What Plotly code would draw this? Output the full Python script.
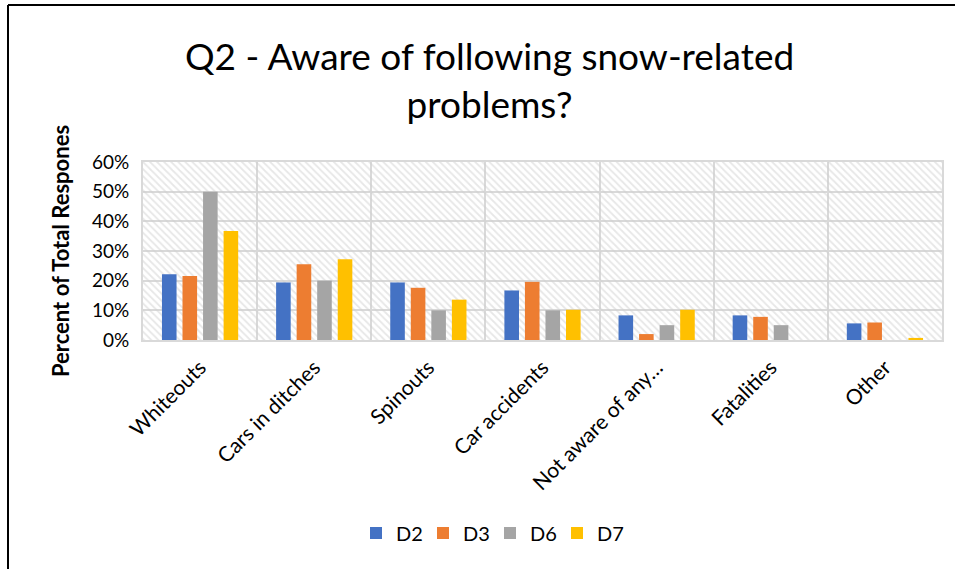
import plotly.graph_objects as go

categories = ["Whiteouts", "Cars in ditches", "Spinouts", "Car accidents",
              "Not aware of any…", "Fatalities", "Other"]
series_names = ["D2", "D3", "D6", "D7"]
d2 = [0.222, 0.194, 0.194, 0.167, 0.083, 0.083, 0.056]
d3 = [0.216, 0.255, 0.176, 0.196, 0.020, 0.078, 0.059]
d6 = [0.500, 0.200, 0.100, 0.100, 0.050, 0.050, 0.000]
d7 = [0.367, 0.272, 0.136, 0.102, 0.102, 0.000, 0.007]
series_values = [d2, d3, d6, d7]
colors = ["#4472C4", "#ED7D31", "#A5A5A5", "#FFC000"]
y_tickvals = [0, 0.1, 0.2, 0.3, 0.4, 0.5, 0.6]
y_max = 0.6

W, H = 958, 569
ML, MR, MT, MB = 143, 16, 162, 229
PW, PH = W - ML - MR, H - MT - MB
FONT = "Lato"
GRID = "#D9D9D9"


def px_x(p):
    return (p - ML) / PW


def px_y(p):
    return (H - MB - p) / PH


fig = go.Figure()

# hatched plot-area background (on base axis, drawn below data)
fig.add_trace(go.Bar(
    x=[0.5], y=[y_max], width=[1], xaxis="x", yaxis="y",
    marker=dict(color="rgba(0,0,0,0)", line=dict(width=0),
                pattern=dict(shape="\\", fgcolor="#CFCFCF", size=5, solidity=0.35)),
    showlegend=False, hoverinfo="skip"))

for name, vals, col in zip(series_names, series_values, colors):
    fig.add_trace(go.Bar(
        x=categories, y=vals, name=name, xaxis="x2", yaxis="y",
        marker=dict(color=col, line=dict(width=0))))

fig.update_layout(
    width=W, height=H,
    margin=dict(l=ML, r=MR, t=MT, b=MB, autoexpand=False),
    paper_bgcolor="white", plot_bgcolor="white",
    font=dict(family=FONT, color="#000000"),
    barmode="group", bargap=0.28, bargroupgap=0.29,
    title=dict(text="Q2 - Aware of following snow-related<br>problems?",
               x=0.511, xanchor="center", xref="container",
               y=1 - 70 / H, yanchor="top", yref="container",
               font=dict(family=FONT, size=37, color="#000000")),
    xaxis=dict(range=[0, 1], visible=False, fixedrange=True),
    xaxis2=dict(overlaying="x", anchor="y", side="bottom", type="category",
                tickson="boundaries", showgrid=True, gridcolor=GRID, gridwidth=2,
                ticks="", tickangle=-45, tickfont=dict(size=21, family=FONT),
                ticklabelstandoff=5,
                showline=True, linecolor=GRID, linewidth=2, mirror=True),
    yaxis=dict(range=[0, y_max], tickvals=y_tickvals, tickformat=".0%",
               showgrid=True, gridcolor=GRID, gridwidth=2, zeroline=False,
               ticks="", tickfont=dict(size=19, family=FONT), ticklabelstandoff=8,
               showline=True, linecolor=GRID, linewidth=2, mirror=True,
               title=dict(text="<b>Percent of Total Respones</b>", standoff=16,
                          font=dict(size=22, family=FONT))),
    legend=dict(orientation="h", x=px_x(490), xanchor="center",
                y=px_y(533), yanchor="middle", font=dict(size=20, family=FONT),
                itemwidth=30, entrywidth=22, entrywidthmode="pixels",
                traceorder="normal"),
    shapes=[
        dict(type="line", xref="paper", yref="paper", x0=px_x(8), x1=px_x(955),
             y0=px_y(5), y1=px_y(5), line=dict(color="black", width=2)),
        dict(type="line", xref="paper", yref="paper", x0=px_x(8), x1=px_x(8),
             y0=px_y(5), y1=px_y(569), line=dict(color="black", width=2)),
    ],
)

fig.write_html("out.html", config={"displayModeBar": False},
               post_script="document.body.style.margin='0';document.body.style.overflow='hidden';")
